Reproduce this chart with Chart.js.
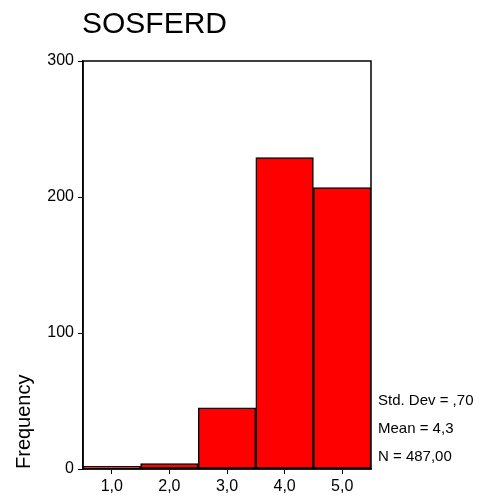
<!DOCTYPE html>
<html>
<head>
<meta charset="utf-8">
<script src="https://cdn.jsdelivr.net/npm/chart.js@4/dist/chart.umd.min.js"></script>
<style>
  html, body { margin: 0; padding: 0; background: #fff; }
  #wrap { width: 485px; height: 497px; position: relative; }
</style>
</head>
<body>
<div id="wrap"><canvas id="c" width="485" height="497"></canvas></div>
<script>
'use strict';
// SOSFERD — histogram (SPSS style)

const bins = ['1,0', '2,0', '3,0', '4,0', '5,0'];
const freq = [2, 4, 45, 229, 207];
const yTicks = [0, 100, 200, 300];
const statLines = ['Std. Dev = ,70', 'Mean = 4,3', 'N = 487,00'];
const TITLE = 'SOSFERD';
const Y_LABEL = 'Frequency';

const FONT = '"Liberation Sans", Arial, sans-serif';

// ramka + teksty (tytuł, statystyki, etykieta osi)
const extras = {
  id: 'extras',
  afterDraw(chart) {
    const { ctx, chartArea: a } = chart;
    ctx.save();
    ctx.strokeStyle = '#000';
    ctx.lineWidth = 1.5;
    ctx.strokeRect(a.left, a.top, a.right - a.left, a.bottom - a.top);

    ctx.fillStyle = '#000';
    ctx.textBaseline = 'middle';
    ctx.textAlign = 'left';
    ctx.font = '30px ' + FONT;
    ctx.fillText(TITLE, 82, 25);

    ctx.font = '15px ' + FONT;
    statLines.forEach((s, i) => ctx.fillText(s, a.right + 7, 401 + i * 28));

    // etykieta osi Y — wyrównana do dołu osi
    ctx.translate(30, a.bottom);
    ctx.rotate(-Math.PI / 2);
    ctx.textAlign = 'left';
    ctx.textBaseline = 'alphabetic';
    ctx.font = '20px ' + FONT;
    ctx.fillText(Y_LABEL, 0, 0);
    ctx.restore();
  }
};

new Chart(document.getElementById('c'), {
  type: 'bar',
  data: {
    labels: bins,
    datasets: [{
      data: freq,
      backgroundColor: '#ff0000',
      borderColor: '#000',
      borderWidth: 1.5,
      borderSkipped: false,
      barPercentage: 1,
      categoryPercentage: 1,
    }],
  },
  options: {
    responsive: false,
    animation: false,
    layout: { padding: { left: 0, top: 61, right: 114, bottom: 0 } },
    plugins: { legend: { display: false }, tooltip: { enabled: false } },
    scales: {
      x: {
        offset: true,
        grid: { display: true, offset: false, drawOnChartArea: false, drawTicks: true,
                tickLength: 5, color: '#000' },
        border: { display: true, color: '#000', width: 1.5 },
        ticks: { color: '#000', font: { family: FONT, size: 16 }, padding: 3, maxRotation: 0 },
        afterFit: s => { s.height = 28; },
      },
      y: {
        min: 0, max: 300,
        afterBuildTicks: s => { s.ticks = yTicks.map(v => ({ value: v })); },
        grid: { display: true, drawOnChartArea: false, drawTicks: true, tickLength: 5, color: '#000' },
        border: { display: true, color: '#000', width: 1.5 },
        ticks: { color: '#000', font: { family: FONT, size: 16 }, padding: 4 },
        afterFit: s => { s.width = 83; },
      },
    },
  },
  plugins: [extras],
});
</script>
</body>
</html>
